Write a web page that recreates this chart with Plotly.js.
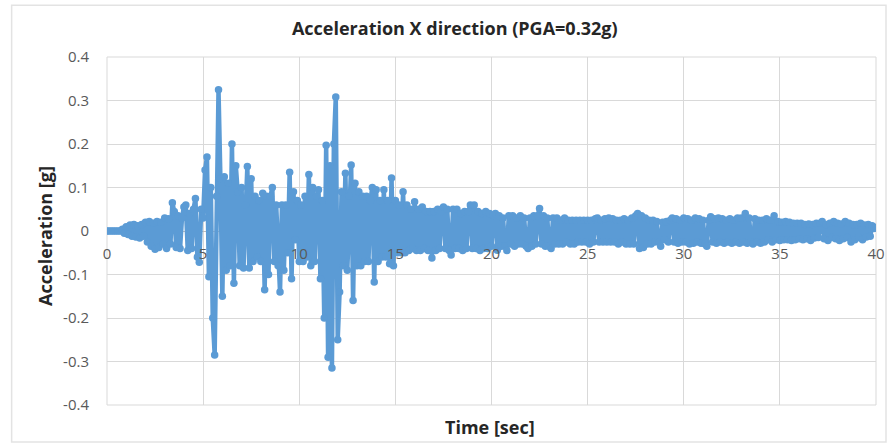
<!DOCTYPE html>
<html>
<head>
<meta charset="utf-8">
<script src="https://cdn.plot.ly/plotly-3.0.1.min.js"></script>
<style>html,body{margin:0;padding:0;background:#fff;}#chart{width:890px;height:444px;}</style>
</head>
<body>
<div id="chart"></div>
<script>
// Sampling grid of the record
const startTime = 0;
const timeStep = 0.1;

// Acceleration values [g], one row per second
const accel = [
  0,0,0,0,0,0,0,0,0.004,-0.005,
  0.01,-0.008,0.014,-0.012,0.015,-0.014,0.012,-0.016,0.015,-0.012,
  0.02,-0.025,0.022,-0.035,0.018,-0.042,0.022,-0.038,0.02,-0.03,
  0.03,-0.04,0.028,-0.03,0.065,0.045,-0.038,0.035,-0.04,0.03,
  0.055,0.06,-0.045,0.04,-0.04,0.05,0.075,-0.06,-0.072,0.05,
  0.03,0.14,0.17,-0.105,0.1,-0.2,-0.285,0.08,0.325,0.12,
  -0.15,0.125,-0.09,0.11,-0.08,0.2,-0.12,0.15,0.09,-0.08,
  0.1,-0.085,0.06,0.148,-0.085,0.12,-0.07,0.08,-0.06,0.07,
  -0.07,0.087,-0.135,0.08,-0.1,0.08,0.1,-0.07,0.06,-0.08,
  -0.14,0.06,-0.09,0.06,-0.05,0.135,-0.11,0.09,-0.02,0.07,
  -0.07,0.06,-0.07,0.08,-0.06,0.13,-0.08,0.1,-0.07,0.08,
  0.095,-0.11,0.07,-0.2,0.197,-0.29,0.15,-0.315,0.2,0.308,
  -0.25,-0.14,0.09,-0.08,0.133,-0.09,0.08,0.152,-0.16,0.11,
  -0.08,0.09,-0.08,0.08,-0.07,0.08,-0.07,0.07,0.1,-0.117,
  0.095,-0.07,0.07,-0.06,0.095,-0.06,0.07,-0.075,0.122,-0.08,
  0.07,-0.05,0.06,-0.05,0.09,-0.05,0.06,-0.045,0.05,-0.04,
  0.067,-0.045,0.05,-0.045,0.055,-0.04,0.045,-0.045,0.045,-0.062,
  0.045,-0.045,0.05,-0.04,0.045,0.055,-0.04,0.05,-0.045,-0.055,
  0.05,-0.04,0.05,-0.04,0.04,-0.045,0.045,-0.04,0.045,0.06,
  -0.04,0.06,-0.04,0.045,-0.045,0.04,-0.04,0.045,-0.04,0.04,
  -0.035,0.035,0.04,-0.044,0.035,-0.035,0.03,-0.035,-0.045,0.035,
  -0.03,0.035,-0.035,0.03,-0.03,0.035,-0.03,0.03,-0.035,-0.04,
  0.03,-0.035,0.035,-0.03,0.035,0.052,-0.03,0.035,-0.035,0.03,
  -0.035,-0.04,0.03,-0.03,0.03,-0.03,0.025,-0.03,0.03,-0.025,
  0.025,-0.03,0.025,-0.03,0.025,-0.025,0.025,-0.025,0.025,-0.025,
  0.025,-0.03,0.025,-0.025,0.028,0.03,-0.025,0.025,-0.025,0.028,
  -0.025,0.03,-0.025,0.028,-0.025,0.025,-0.03,0.025,-0.025,0.028,
  -0.03,0.025,-0.03,0.03,-0.03,0.035,0.04,-0.04,0.035,-0.038,
  0.03,-0.03,0.025,-0.03,0.025,-0.025,0.022,-0.025,-0.035,0.02,
  -0.02,0.022,-0.025,0.025,0.03,-0.025,0.028,-0.028,0.025,-0.025,
  0.03,-0.025,0.028,-0.03,0.025,-0.028,0.03,-0.025,0.028,-0.028,
  0.025,-0.03,-0.035,0.025,0.033,-0.025,0.028,-0.028,0.03,-0.025,
  0.028,-0.028,0.025,-0.025,0.028,-0.028,0.025,-0.025,0.03,-0.028,
  0.03,-0.025,0.04,-0.028,0.03,-0.025,-0.03,0.028,-0.025,0.025,
  -0.028,0.025,-0.025,0.028,-0.02,0.025,-0.025,0.035,-0.02,0.022,
  -0.022,0.02,-0.02,0.022,-0.02,0.02,-0.022,0.018,-0.02,0.018,
  -0.018,0.018,-0.02,0.015,-0.018,0.016,-0.022,0.015,-0.016,0.018,
  -0.015,0.018,0.022,-0.018,0.015,-0.022,0.018,-0.015,0.022,-0.018,
  0.018,-0.022,0.016,-0.018,0.022,-0.015,0.018,-0.025,0.015,-0.02,
  0.015,-0.015,0.018,-0.02,0.014,-0.014,0.015,-0.012,0.012,0.006,
  0.008
];

const xTickVals = [0,5,10,15,20,25,30,35,40];
const xTickText = ['0','5','10','15','20','25','30','35','40'];
const yTickVals = [0.4,0.3,0.2,0.1,0,-0.1,-0.2,-0.3,-0.4];
const yTickText = ['0.4','0.3','0.2','0.1','0','-0.1','-0.2','-0.3','-0.4'];

const chartTitle = 'Acceleration X direction (PGA=0.32g)';
const xTitle = 'Time [sec]';
const yTitle = 'Acceleration [g]';

const time = accel.map((_, i) => +(startTime + i * timeStep).toFixed(2));

const blue = '#5b9bd5';
const grid = '#d9d9d9';
const tickFont = {family: 'Open Sans, sans-serif', size: 15, color: '#595959'};
const titleFont = {family: 'Open Sans, sans-serif', size: 18, color: '#262626'};

const trace = {
  x: time, y: accel, type: 'scatter', mode: 'lines+markers',
  line: {color: blue, width: 4.5},
  marker: {color: blue, size: 7.5},
  hoverinfo: 'skip'
};

const layout = {
  width: 890, height: 444,
  margin: {l: 107, r: 14, t: 57, b: 39},
  paper_bgcolor: '#ffffff', plot_bgcolor: '#ffffff',
  showlegend: false,
  title: {text: '<b>' + chartTitle + '</b>', x: 0.511, xanchor: 'center', y: 0.935, yanchor: 'middle',
          font: titleFont},
  xaxis: {
    range: [0, 40], tickvals: xTickVals, ticktext: xTickText,
    showgrid: true, gridcolor: grid, gridwidth: 1,
    zeroline: false, showline: false,
    anchor: 'free', position: 0.5,
    ticks: 'outside', ticklen: 9, tickcolor: 'rgba(0,0,0,0)',
    tickfont: tickFont, fixedrange: true
  },
  yaxis: {
    range: [-0.4, 0.4], tickvals: yTickVals, ticktext: yTickText,
    showgrid: true, gridcolor: grid, gridwidth: 1,
    zeroline: true, zerolinecolor: '#bfbfbf', zerolinewidth: 1,
    showline: false,
    ticks: 'outside', ticklen: 14, tickcolor: 'rgba(0,0,0,0)',
    tickfont: tickFont, fixedrange: true
  },
  shapes: [
    {type: 'rect', xref: 'paper', yref: 'paper', x0: 0, x1: 1, y0: 0, y1: 1,
     line: {color: grid, width: 1}, layer: 'below'},
    {type: 'rect', xref: 'paper', yref: 'paper', x0: -0.124, x1: 1.013, y0: -0.106, y1: 1.149,
     line: {color: '#e3e3e3', width: 1.5}, layer: 'below'}
  ],
  annotations: [
    {text: '<b>' + xTitle + '</b>', xref: 'paper', yref: 'paper', x: 0.498, y: -0.063,
     xanchor: 'center', yanchor: 'middle', showarrow: false, font: titleFont},
    {text: '<b>' + yTitle + '</b>', xref: 'paper', yref: 'paper', x: -0.0806, y: 0.486,
     xanchor: 'center', yanchor: 'middle', textangle: -90, showarrow: false, font: titleFont}
  ]
};

Plotly.newPlot('chart', [trace], layout, {displayModeBar: false, staticPlot: true});
</script>
</body>
</html>
